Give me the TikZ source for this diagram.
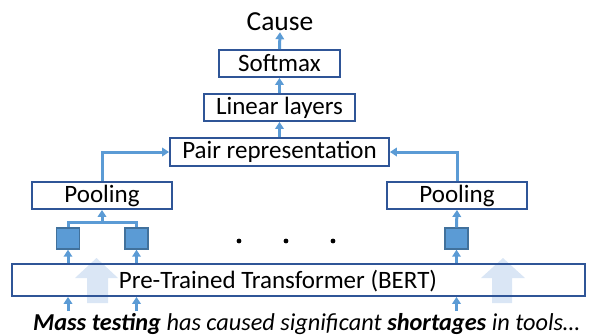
\documentclass[tikz,border=0pt]{standalone}
\usepackage{fontspec}
\setmainfont{Carlito}
\usetikzlibrary{arrows.meta}
\definecolor{boxc}{RGB}{47,85,151}
\definecolor{arrc}{RGB}{91,155,213}
\definecolor{sqb}{RGB}{65,113,156}
\definecolor{bigc}{RGB}{218,230,245}
\begin{document}
\begin{tikzpicture}[x=1pt,y=-1pt,
  box/.style={draw=boxc,line width=1.8pt,inner sep=0pt,font=\fontsize{25}{27}\selectfont},
  sqnode/.style={draw=sqb,fill=arrc,line width=1.4pt,minimum width=23pt,minimum height=21pt,inner sep=0pt},
  conn/.style={draw=arrc,line width=3pt,-{Triangle[length=7pt,width=8.5pt]}},
  line/.style={draw=arrc,line width=3pt}]
\useasboundingbox (0,0) rectangle (590,335);
% big light arrows
\fill[bigc] (87,303) -- (87,278) -- (75,278) -- (96.5,258) -- (118,278) -- (108,278) -- (108,303) -- cycle;
\fill[bigc] (492,303) -- (492,278) -- (481,278) -- (503,258) -- (525,278) -- (512,278) -- (512,303) -- cycle;

\node[font=\fontsize{27.5}{30}\selectfont,inner sep=1pt] (cause) at (280,22) {Cause};
\node[box,minimum width=121pt,minimum height=27pt] (sm) at (279.5,63.5) {Softmax};
\node[box,minimum width=151pt,minimum height=27pt] (lin) at (279.5,107.5) {Linear layers};
\node[box,minimum width=219pt,minimum height=28pt] (pair) at (279.5,152) {Pair representation};
\node[box,minimum width=140pt,minimum height=27pt] (poolL) at (102,195.5) {Pooling};
\node[box,minimum width=140pt,minimum height=27pt] (poolR) at (457,195.5) {Pooling};
\node[sqnode] (s1) at (68,238.5) {};
\node[sqnode] (s2) at (136.5,238.5) {};
\node[sqnode] (s3) at (456.5,238.5) {};
\node[box,minimum width=573pt,minimum height=32pt] (bert) at (298.5,280) {};
\node[font=\fontsize{25}{27}\selectfont] (berttxt) at (278,281) {Pre-Trained Transformer (BERT)};
\foreach \x/\n in {239/d1,286/d2,333/d3} \fill (\x,241) circle (2.4pt) coordinate (\n);

\node[font=\fontsize{24.3}{26}\selectfont\itshape,anchor=base,inner sep=0pt] (sent) at (306.5,330) {\textbf{Mass testing} has caused significant \textbf{shortages} in tools…};

\coordinate (i1) at (68,311);
\coordinate (i2) at (136.5,311);
\coordinate (i3) at (456.5,311);
\coordinate (j) at (102,222);

\draw[conn] (i1) -- (i1 |- bert.south);
\draw[conn] (i2) -- (i2 |- bert.south);
\draw[conn] (i3) -- (i3 |- bert.south);
\draw[conn] (s1 |- bert.north) -- (s1.south);
\draw[conn] (s2 |- bert.north) -- (s2.south);
\draw[conn] (s3 |- bert.north) -- (s3.south);
\draw[line] (s1.north) |- (j) -| (s2.north);
\draw[conn] (j) -- (poolL.south);
\draw[conn] (s3.north) -- (poolR.south);
\draw[conn] (poolL.north) |- (pair.west);
\draw[conn] (poolR.north) |- (pair.east);
\draw[conn] (pair.north) -- (lin.south);
\draw[conn] (lin.north) -- (sm.south);
\draw[conn] (sm.north) -- (cause.south);
\end{tikzpicture}
\end{document}
